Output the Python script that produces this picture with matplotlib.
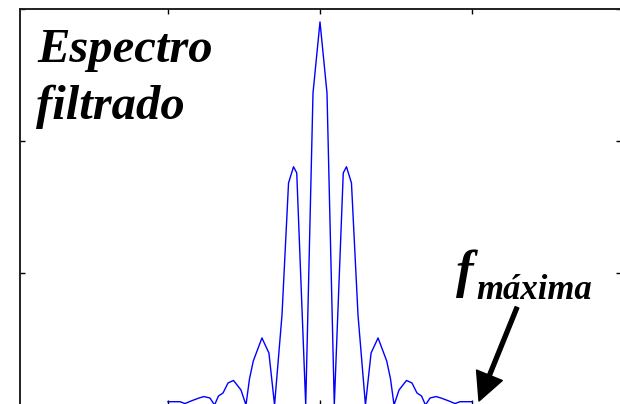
import numpy as np
from matplotlib import pyplot as plt

# Filtered spectrum (frequency, magnitude)
freq = [-1.0, -0.921, -0.888, -0.849, -0.796, -0.763, -0.724, -0.694,
        -0.668, -0.638, -0.605, -0.569, -0.520, -0.487,
        -0.464, -0.439, -0.382, -0.336, -0.299,
        -0.250, -0.207, -0.174, -0.153, -0.094, -0.046,
        0.0,
        0.046, 0.094, 0.153, 0.174, 0.207, 0.250,
        0.299, 0.336, 0.382, 0.439, 0.464,
        0.487, 0.520, 0.569, 0.605, 0.638, 0.668,
        0.694, 0.724, 0.763, 0.796, 0.849, 0.888, 0.921, 1.0]
mag = [0.025, 0.025, 0.011, 0.030, 0.053, 0.064, 0.053, 0.0,
       0.068, 0.091, 0.167, 0.186, 0.114, 0.0,
       0.197, 0.333, 0.508, 0.394, 0.0,
       0.682, 1.682, 1.805, 1.758, 0.0, 2.364,
       2.902,
       2.364, 0.0, 1.758, 1.805, 1.682, 0.682,
       0.0, 0.394, 0.508, 0.333, 0.197,
       0.0, 0.114, 0.186, 0.167, 0.091, 0.068,
       0.0, 0.053, 0.064, 0.053, 0.030, 0.011, 0.025, 0.025]

W, H = 620, 404
fig = plt.figure(figsize=(W / 100, H / 100), dpi=100)
ax = fig.add_axes([20 / W, -1 / H, 601 / W, 396 / H])

ax.plot(freq, mag, color='#0000ff', lw=1.0)

ax.set_xlim((20 - 320) / 152, (621 - 320) / 152)
ax.set_ylim(0, 3)
ax.set_xticks([-1, 0, 1])
ax.set_yticks([0, 1, 2, 3])
ax.tick_params(direction='in', length=3.6, width=1, top=True, right=True,
               labelbottom=False, labelleft=False)
for s in ax.spines.values():
    s.set_linewidth(1.4)
    s.set_color('#202020')
# picture is cropped right at the frame edge: only the ticks show there
ax.spines['right'].set_visible(False)

font = dict(family='Liberation Serif', weight='bold', style='italic', color='black')
fig.text(37 / W, 1 - 62 / H, 'Espectro', fontsize=35, va='baseline', ha='left', **font)
fig.text(36 / W, 1 - 119 / H, 'filtrado', fontsize=35, va='baseline', ha='left', **font)
fig.text(456 / W, 1 - 287 / H, 'f', fontsize=38, va='baseline', ha='left', **font)
fig.text(476 / W, 1 - 299 / H, 'máxima', fontsize=25, va='baseline', ha='left', **font)

# arrow pointing at the top frequency
ax.annotate('', xy=((479 - 320) / 152, 0.03), xytext=((517 - 320) / 152, 0.74),
            arrowprops=dict(facecolor='black', edgecolor='black', width=2.8,
                            headwidth=20, headlength=20, shrink=0))

fig.savefig('out.png', dpi=100)
